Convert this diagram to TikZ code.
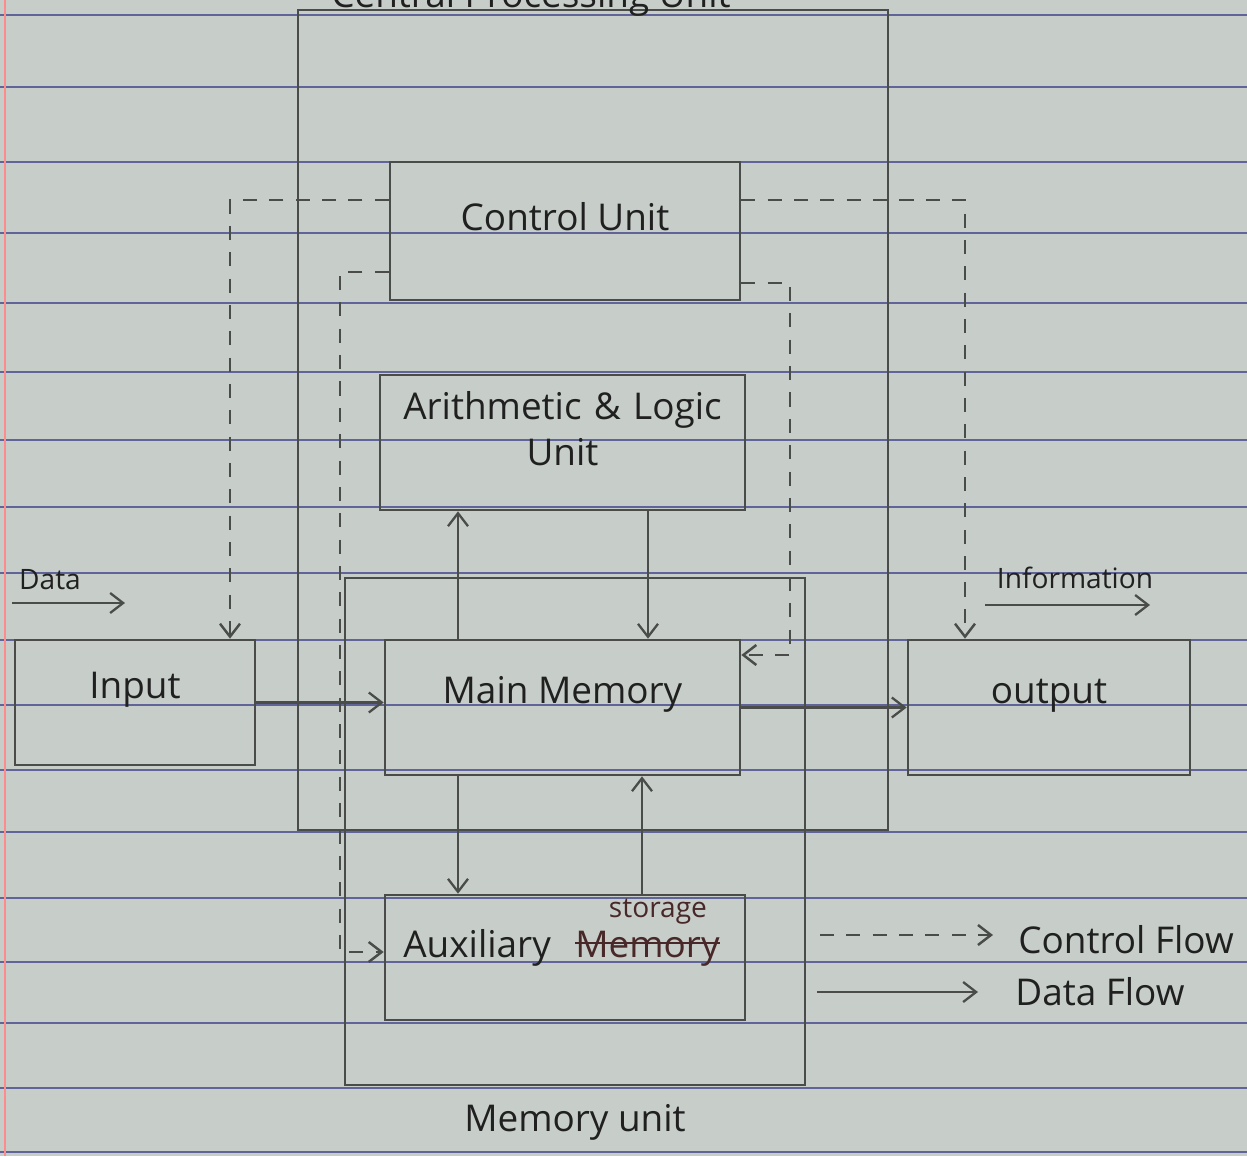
\documentclass[tikz,border=0pt]{standalone}
\usepackage{fontspec}
\setmainfont{Open Sans}
\usetikzlibrary{positioning, arrows.meta, calc, fit, backgrounds}
\definecolor{paper}{RGB}{199,206,201}
\definecolor{ruleblue}{RGB}{96,100,152}
\definecolor{pencil}{RGB}{74,76,74}
\definecolor{ink}{RGB}{32,32,32}
\definecolor{redink}{RGB}{72,40,40}
\newcommand{\handtext}{\fontsize{21}{26}\selectfont}
\newcommand{\smallhand}{\fontsize{16}{20}\selectfont}

\begin{document}
\begin{tikzpicture}[
  x=0.02cm, y=-0.02cm,
  box/.style={draw=pencil, line width=1.5pt, inner sep=0, fit={#1}, font=\handtext, text=ink},
  ruled/.style={ruleblue, line width=0.9pt},
  dataflow/.style={pencil, line width=1.3pt, -{Straight Barb[length=2.6mm, width=4mm]}},
  ctrl/.style={pencil, line width=1.4pt, dash pattern=on 8pt off 7pt, -{Straight Barb[length=2.6mm, width=4mm]}},
  lbl/.style={font=\handtext, text=ink, inner sep=0},
]
  % --- page: paper and ruling ---
  \useasboundingbox (0,0) rectangle (1247,1156);
  \clip (0,0) rectangle (1247,1156);
  \fill[paper] (0,0) rectangle (1247,1156);
  \foreach \ry in {15,87,162,233,303,372,440,507,573,640,705,770,832,898,962,1023,1088,1152}{
    \draw[ruled] (0,\ry) -- (1247,\ry);
  }
  \draw[red!45, line width=0.8pt] (5,0) -- (5,1156);

  % --- blocks ---
  \node[box={(298,10)(888,830)}] (cpu) {};
  \node[lbl, anchor=base] (cpulabel) at (531,8) {Central Processing Unit};
  \node[box={(390,162)(740,300)}] (cu) {Control Unit};
  \node[box={(380,375)(745,510)}, align=center] (alu) {Arithmetic \& Logic\\Unit};
  \node[box={(345,578)(805,1085)}] (mu) {};
  \node[box={(385,640)(740,775)}] (mm) {Main Memory};
  \node[box={(385,895)(745,1020)}] (aux) {};
  \node[box={(15,640)(255,765)}] (input) {Input};
  \node[box={(908,640)(1190,775)}] (output) {output};
  \node[lbl, below=0.35cm of mu] (mulabel) {Memory unit};

  % --- auxiliary storage text (word struck out) ---
  \node[lbl, anchor=base west] (auxword) at (403,957) {Auxiliary};
  \node[lbl, text=redink, anchor=base west] (memword) at (575,957) {Memory};
  \draw[redink, line width=1pt] ([yshift=3pt]memword.west) -- ([yshift=3pt]memword.east);
  \node[lbl, font=\smallhand, text=redink] (storword) at (658,912) {storage};

  % --- data flow ---
  \coordinate (upx) at (458,0);
  \coordinate (dnx) at (648,0);
  \coordinate (auxup) at (642,0);
  \draw[dataflow] (input.east) -- (input.east -| mm.west);
  \draw[dataflow] (mm.east) -- (mm.east -| output.west);
  \draw[dataflow] (upx |- mm.north) -- (upx |- alu.south);
  \draw[dataflow] (dnx |- alu.south) -- (dnx |- mm.north);
  \draw[dataflow] (upx |- mm.south) -- (upx |- aux.north);
  \draw[dataflow] (auxup |- aux.north) -- (auxup |- mm.south);

  % --- control flow ---
  \coordinate (cl) at (230,200);
  \coordinate (cll) at (340,272);
  \coordinate (auxin) at (340,952);
  \coordinate (cr) at (965,200);
  \coordinate (crl) at (790,283);
  \coordinate (mmin) at (790,655);
  \draw[ctrl] (cl -| cu.west) -- (cl) -- (cl |- input.north);
  \draw[ctrl] (cll -| cu.west) -- (cll) -- (auxin) -- (auxin -| aux.west);
  \draw[ctrl] (cr -| cu.east) -- (cr) -- (cr |- output.north);
  \draw[ctrl] (crl -| cu.east) -- (crl) -- (mmin) -- (mmin -| mm.east);

  % --- data in / information out ---
  \node[lbl, font=\smallhand] (datalabel) at (50,580) {Data};
  \coordinate (datas) at (12,603);
  \coordinate (datae) at (125,603);
  \draw[dataflow] (datas) -- (datae);
  \node[lbl, font=\smallhand] (infolabel) at (1075,578) {Information};
  \coordinate (infos) at (985,605);
  \coordinate (infoe) at (1150,605);
  \draw[dataflow] (infos) -- (infoe);

  % --- legend ---
  \coordinate (lgcs) at (820,935);
  \coordinate (lgce) at (993,935);
  \coordinate (lgds) at (817,992);
  \coordinate (lgde) at (978,992);
  \draw[ctrl] (lgcs) -- (lgce);
  \draw[dataflow] (lgds) -- (lgde);
  \node[lbl, anchor=west] (ctrltext) at (1018,940) {Control Flow};
  \node[lbl, anchor=west] (datatext) at (1015,992) {Data Flow};
\end{tikzpicture}
\end{document}
